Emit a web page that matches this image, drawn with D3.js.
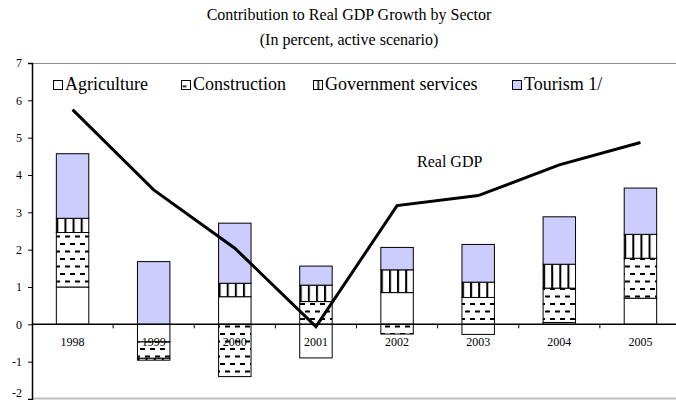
<!DOCTYPE html>
<html>
<head>
<meta charset="utf-8">
<script src="https://cdn.jsdelivr.net/npm/d3@7/dist/d3.min.js"></script>
<style>
  html, body { margin: 0; padding: 0; background: #fff; }
  svg { display: block; font-family: "Liberation Serif", "Times New Roman", serif; }
</style>
</head>
<body>
<svg id="chart" width="676" height="400"></svg>
<script>
// Years on the category axis
const years = ["1998", "1999", "2000", "2001", "2002", "2003", "2004", "2005"];

// Sector contributions to growth (percentage points)
const agriculture  = [1.00, -0.47, 0.74, -0.90, 0.85, -0.27, 0.05, 0.70];
const construction = [1.46, -0.44, -1.40, 0.61, -0.26, 0.72, 0.92, 1.07];
const government   = [0.38, -0.05, 0.36, 0.44, 0.61, 0.41, 0.64, 0.64];
const tourism      = [1.73, 1.68, 1.61, 0.51, 0.60, 1.01, 1.27, 1.24];

// Overall real GDP growth (percent)
const realGDP = [5.75, 3.60, 2.04, -0.06, 3.18, 3.45, 4.27, 4.87];

// Series names as shown in the legend
const seriesNames = ["Agriculture", "Construction", "Government services", "Tourism 1/"];
const yTicks = [-2, -1, 0, 1, 2, 3, 4, 5, 6, 7];

const svg = d3.select("#chart");

const keys = ["agriculture", "construction", "government", "tourism"];
const rows = years.map((yr, i) => ({
  year: yr,
  agriculture: agriculture[i],
  construction: construction[i],
  government: government[i],
  tourism: tourism[i]
}));

const x = d3.scaleBand().domain(years).range([32, 681]).paddingInner(0.6).paddingOuter(0.3);
const xOuter = d3.scaleBand().domain(years).range([32, 681]);
const y = d3.scaleLinear().domain([-2, 7]).range([399, 63]);

// Fill patterns
const defs = svg.append("defs");
const dash = defs.append("pattern").attr("id", "pat-construction")
  .attr("patternUnits", "userSpaceOnUse").attr("width", 10).attr("height", 15);
dash.append("rect").attr("width", 10).attr("height", 15).attr("fill", "#fff");
dash.append("rect").attr("x", 0).attr("y", 3).attr("width", 5).attr("height", 2).attr("fill", "#000");
dash.append("rect").attr("x", 5).attr("y", 10.5).attr("width", 5).attr("height", 2).attr("fill", "#000");

const vert = defs.append("pattern").attr("id", "pat-government")
  .attr("patternUnits", "objectBoundingBox").attr("width", 0.25).attr("height", 1);
vert.append("rect").attr("width", 20).attr("height", 1000).attr("fill", "#fff");
vert.append("rect").attr("x", 0).attr("y", 0).attr("width", 2).attr("height", 1000).attr("fill", "#000");

// Small swatch versions for the legend
const dashKey = defs.append("pattern").attr("id", "key-construction")
  .attr("patternUnits", "objectBoundingBox").attr("width", 1).attr("height", 1);
dashKey.append("rect").attr("width", 9).attr("height", 9).attr("fill", "#fff");
dashKey.append("rect").attr("x", 1).attr("y", 5).attr("width", 4).attr("height", 1.6).attr("fill", "#000");
const vertKey = defs.append("pattern").attr("id", "key-government")
  .attr("patternUnits", "objectBoundingBox").attr("width", 1).attr("height", 1);
vertKey.append("rect").attr("width", 9).attr("height", 9).attr("fill", "#fff");
vertKey.append("rect").attr("x", 4).attr("y", 0).attr("width", 1.5).attr("height", 9).attr("fill", "#000");

const fills = {
  agriculture: "#ffffff",
  construction: "url(#pat-construction)",
  government: "url(#pat-government)",
  tourism: "#ccccff"
};
const keyFills = {
  agriculture: "#ffffff",
  construction: "url(#key-construction)",
  government: "url(#key-government)",
  tourism: "#ccccff"
};

// Title
svg.append("text").attr("x", 349).attr("y", 20).attr("text-anchor", "middle")
  .attr("font-size", 16).text("Contribution to Real GDP Growth by Sector");
svg.append("text").attr("x", 349).attr("y", 45).attr("text-anchor", "middle")
  .attr("font-size", 16).text("(In percent, active scenario)");

// Plot frame lines
svg.append("line").attr("x1", 32).attr("x2", 676).attr("y1", 63.5).attr("y2", 63.5)
  .attr("stroke", "#8c8c8c").attr("stroke-width", 1);
svg.append("line").attr("x1", 32).attr("x2", 676).attr("y1", 398.5).attr("y2", 398.5)
  .attr("stroke", "#c0c0c0").attr("stroke-width", 2);

// Stacked bars
const stacked = d3.stack().keys(keys).offset(d3.stackOffsetDiverging)(rows);
const barG = svg.append("g");
stacked.forEach(layer => {
  barG.selectAll(null).data(layer).join("rect")
    .attr("x", d => x(d.data.year))
    .attr("width", x.bandwidth())
    .attr("y", d => y(Math.max(d[0], d[1])))
    .attr("height", d => Math.abs(y(d[0]) - y(d[1])))
    .attr("fill", fills[layer.key])
    .attr("stroke", "#000")
    .attr("stroke-width", 1);
});

// Y axis
const yAxis = d3.axisLeft(y).tickValues(yTicks).tickSize(4).tickPadding(6).tickFormat(d => String(d));
const yg = svg.append("g").attr("transform", "translate(32,0)").call(yAxis);
yg.select(".domain").attr("stroke", "#000").attr("stroke-width", 1.5);
yg.selectAll("text").attr("font-family", "Liberation Serif").attr("font-size", 12).attr("fill", "#000");
// lowest label sits on the bottom edge; lift it so it stays readable
yg.selectAll(".tick").filter(d => d === -2).select("text").attr("dy", "-0.25em");

// Zero line with category separators
svg.append("line").attr("x1", 32).attr("x2", 676).attr("y1", y(0)).attr("y2", y(0))
  .attr("stroke", "#000").attr("stroke-width", 1.5);
svg.append("g").selectAll("line").data(years.slice(1)).join("line")
  .attr("x1", d => xOuter(d)).attr("x2", d => xOuter(d))
  .attr("y1", y(0)).attr("y2", y(0) + 4)
  .attr("stroke", "#000").attr("stroke-width", 1);
svg.append("g").selectAll("text").data(years).join("text")
  .attr("x", d => x(d) + x.bandwidth() / 2)
  .attr("y", y(0) + 22)
  .attr("text-anchor", "middle")
  .attr("font-size", 12)
  .text(d => d);

// Real GDP line
const line = d3.line()
  .x((d, i) => x(years[i]) + x.bandwidth() / 2)
  .y(d => y(d));
svg.append("path").datum(realGDP).attr("d", line)
  .attr("fill", "none").attr("stroke", "#000").attr("stroke-width", 3)
  .attr("stroke-linejoin", "miter");
svg.append("text").attr("x", 417).attr("y", 167).attr("font-size", 16).text("Real GDP");

// Legend
const legendX = [53, 181, 313, 512];
const leg = svg.append("g");
keys.forEach((k, i) => {
  leg.append("rect").attr("x", legendX[i] + 0.5).attr("y", 80.5).attr("width", 9).attr("height", 9)
    .attr("fill", keyFills[k]).attr("stroke", "#000").attr("stroke-width", 1);
  leg.append("text").attr("x", legendX[i] + 12).attr("y", 90).attr("font-size", 18).text(seriesNames[i]);
});
</script>
</body>
</html>
